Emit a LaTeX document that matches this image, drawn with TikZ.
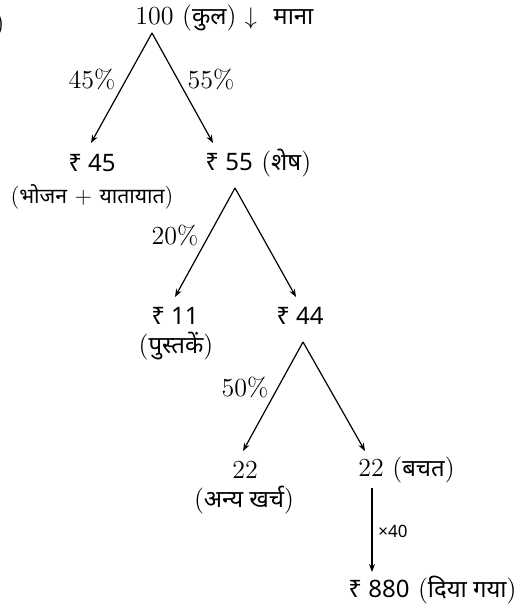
\documentclass[tikz,border=0pt]{standalone}
\usepackage{fontspec}
\newfontfamily\deva[Script=Devanagari, Scale=0.92]{Noto Sans}
\newfontfamily\nsans{Noto Sans}
\usetikzlibrary{arrows.meta}
\tikzset{
  lbl/.style={inner sep=0pt, font=\fontsize{13}{15}\selectfont},
  rs/.style={inner sep=0pt, font=\fontsize{12}{14}\selectfont\nsans},
  small/.style={inner sep=0pt, font=\fontsize{8.5}{10}\selectfont\nsans},
  arr/.style={line width=0.6pt, -{Stealth[length=4pt,width=3pt]}}
}
\begin{document}
\begin{tikzpicture}[x=0.5pt,y=-0.5pt]
\useasboundingbox (0,0) rectangle (522,604);
% glyph cut by the left edge
\node[lbl, anchor=east] (stray) at (5,25) {)};
% top
\node[lbl, anchor=west] (top) at (135,18) {100 ({\deva कुल}) $\downarrow$\hspace{4pt} {\deva माना}};
\coordinate (a1) at (152,33);
\coordinate (t45) at (91,143);
\coordinate (t55) at (213,143);
\draw[arr] (a1) -- (t45);
\draw[arr] (a1) -- (t55);
\node[lbl] (p45) at (92,79) {45\%};
\node[lbl] (p55) at (211,79) {55\%};
% level 2
\node[rs] (n45) at (92,163) {₹ 45};
\node[lbl, font=\fontsize{11.5}{14}\selectfont] (l45) at (92,197) {({\deva भोजन} + {\deva यातायात})};
\node[lbl, anchor=west] (n55) at (205,163) {{\fontsize{12}{14}\selectfont\nsans ₹ 55} ({\deva शेष})};
\coordinate (a2) at (235,188);
\coordinate (t11) at (175,297);
\coordinate (t44) at (296,297);
\draw[arr] (a2) -- (t11);
\draw[arr] (a2) -- (t44);
\node[lbl] (p20) at (175,235) {20\%};
% level 3
\node[rs] (n11) at (175,316) {₹ 11};
\node[lbl] (l11) at (176,346) {({\deva पुस्तकें})};
\node[rs] (n44) at (300,316) {₹ 44};
\coordinate (a3) at (303,342);
\coordinate (t22a) at (243,451);
\coordinate (t22b) at (365,451);
\draw[arr] (a3) -- (t22a);
\draw[arr] (a3) -- (t22b);
\node[lbl] (p50) at (245,387) {50\%};
% level 4
\node[lbl] (n22a) at (245,470) {22};
\node[lbl] (l22) at (244,500) {({\deva अन्य खर्च})};
\node[lbl, anchor=west] (n22b) at (358,470) {22 ({\deva बचत})};
\coordinate (v1) at (372,488);
\coordinate (v2) at (372,572);
\draw[arr] (v1) -- (v2);
\node[small] (x40) at (393,531) {×40};
\node[lbl, anchor=west] (n880) at (348,590) {{\fontsize{12}{14}\selectfont\nsans ₹ 880} ({\deva दिया गया})};
\end{tikzpicture}
\end{document}
